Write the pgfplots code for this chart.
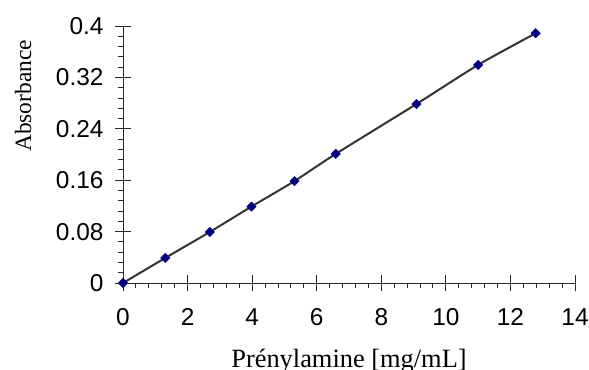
\documentclass[border=0pt]{standalone}
\usepackage{pgfplots}
\pgfplotsset{compat=1.18}
\usepackage{fontspec}
\setmainfont{Liberation Sans}
\newfontfamily\timesf{Liberation Serif}
\definecolor{linegray}{RGB}{51,51,51}
\definecolor{markblue}{RGB}{0,0,128}
\definecolor{axisgray}{RGB}{40,40,40}
\begin{document}
\begin{tikzpicture}
\begin{axis}[
  at={(123bp,-283bp)}, anchor=south west,
  scale only axis, width=452bp, height=257bp,
  xmin=0, xmax=14, ymin=0, ymax=0.4,
  axis lines=left, axis line style={-, axisgray, line width=0.9bp},
  xtick={0,2,4,6,8,10,12,14},
  xticklabels={0,2,4,6,8,10,12,14},
  ytick={0,0.08,0.16,0.24,0.32,0.4},
  yticklabels={0,0.08,0.16,0.24,0.32,0.4},
  minor x tick num=4, minor y tick num=4,
  tick align=center,
  major tick length=16bp, minor tick length=5bp,
  tick style={axisgray, line width=0.9bp},
  minor x tick style={yshift=-2.5bp},
  minor y tick style={xshift=-2.5bp},
  /pgf/number format/assume math mode=true,
  tick label style={font=\fontsize{24.5}{29}\selectfont, text=black},
  xticklabel style={yshift=-14bp},
  yticklabel style={xshift=-8bp},
  xlabel={Prénylamine [mg/mL]},
  ylabel={Absorbance},
  xlabel style={at={(axis description cs:0.5,-0.327)}, anchor=base, font=\timesf\fontsize{26.5}{30}\selectfont},
  ylabel style={at={(axis description cs:-0.221,0.728)}, anchor=center, rotate=0, font=\timesf\fontsize{23.5}{28}\selectfont},
  clip=false,
]
\addplot[color=linegray, line width=2bp, smooth, tension=0.4,
  mark=square*, mark size=3.3bp,
  mark options={rotate=45, fill=markblue, draw=markblue, line width=0.5bp}]
  coordinates {
  (0,0) (1.31,0.039) (2.69,0.0795) (3.98,0.119) (5.31,0.1586)
  (6.59,0.201) (9.09,0.2786) (11.0,0.3395) (12.78,0.3887)
  };
\end{axis}
\pgfresetboundingbox
\path (0,0) rectangle (589bp,-370bp);
\end{tikzpicture}
\end{document}
